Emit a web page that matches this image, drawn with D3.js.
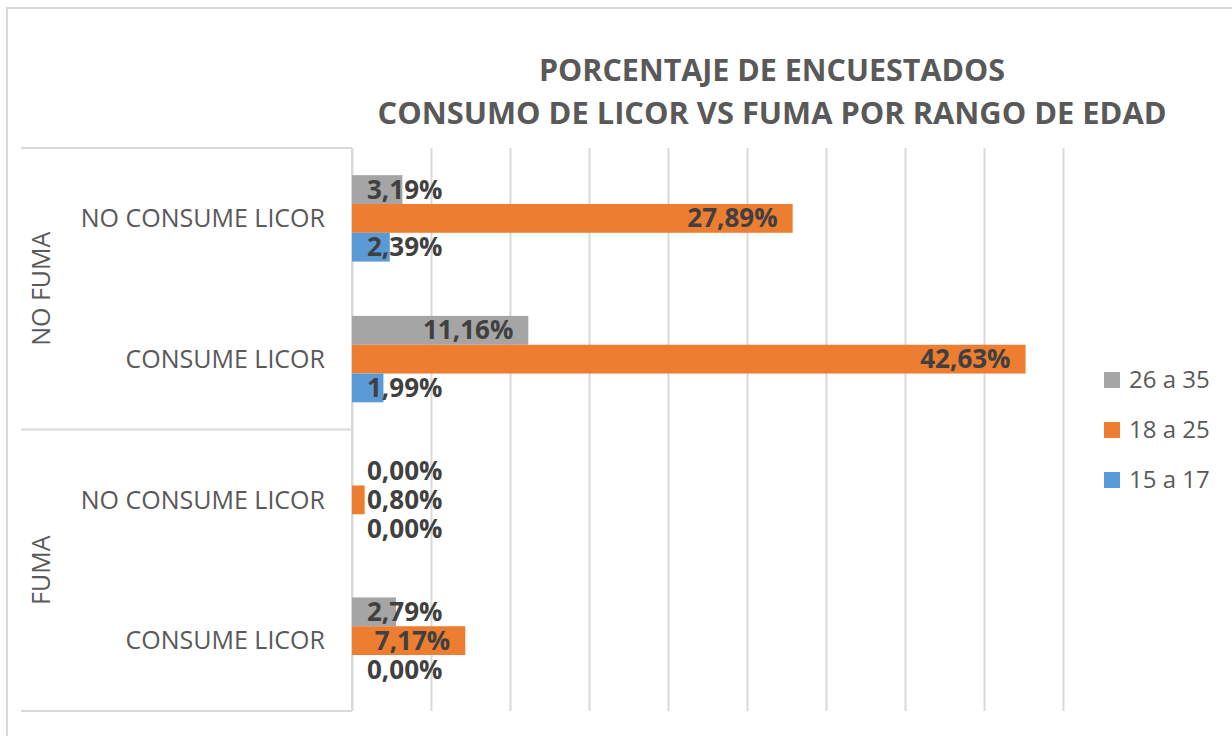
<!DOCTYPE html>
<html lang="es">
<head>
  <meta charset="UTF-8">
  <title>Porcentaje de encuestados</title>
  <script src="https://d3js.org/d3.v7.min.js"></script>
  <style>
    body { margin: 0; background: white; }
    svg { display: block; font-family: "Open Sans", sans-serif; }
    .grid line { stroke: #d9d9d9; stroke-width: 2px; }
    .frame { fill: none; stroke: #d9d9d9; stroke-width: 2px; }
    .sep { stroke: #d9d9d9; stroke-width: 2px; }
    .title { font-weight: bold; fill: #595959; font-size: 30px; }
    .cat { fill: #595959; font-size: 25px; }
    .val { fill: #404040; font-weight: bold; font-size: 26px; }
    .leg { fill: #595959; font-size: 24px; }
  </style>
</head>
<body>
  <svg width="1232" height="736"></svg>
  <script>
    // Data
    var groupLabels = ["NO FUMA", "FUMA"];
    var catLabels = ["NO CONSUME LICOR", "CONSUME LICOR", "NO CONSUME LICOR", "CONSUME LICOR"];
    var series = ["26 a 35", "18 a 25", "15 a 17"];
    var colors = ["#a5a5a5", "#ed7d31", "#5b9bd5"];
    var values = [
      [3.19, 11.16, 0.00, 2.79],   // 26 a 35
      [27.89, 42.63, 0.80, 7.17],  // 18 a 25
      [2.39, 1.99, 0.00, 0.00]     // 15 a 17
    ];
    var xTicks = [0, 5, 10, 15, 20, 25, 30, 35, 40, 45];

    var svg = d3.select("svg");
    var plotLeft = 352, plotRight = 1063, plotTop = 148, plotBottom = 711;

    svg.append("rect").attr("class", "frame")
      .attr("x", 7).attr("y", 8).attr("width", 1240).attr("height", 740);

    // title
    svg.append("text").attr("class", "title")
      .attr("x", 772).attr("y", 81).attr("text-anchor", "middle")
      .attr("textLength", 466).attr("lengthAdjust", "spacingAndGlyphs")
      .text("PORCENTAJE DE ENCUESTADOS");
    svg.append("text").attr("class", "title")
      .attr("x", 772).attr("y", 124).attr("text-anchor", "middle")
      .attr("textLength", 789).attr("lengthAdjust", "spacingAndGlyphs")
      .text("CONSUMO DE LICOR VS FUMA POR RANGO DE EDAD");

    var x = d3.scaleLinear().domain([0, 45]).range([plotLeft, plotRight]);
    var y = d3.scaleBand().domain(d3.range(catLabels.length))
      .range([plotTop, plotBottom]).paddingInner(0.386).paddingOuter(0.193);
    var ySub = d3.scaleBand().domain(series).range([0, y.bandwidth()]);

    // gridlines
    svg.append("g").attr("class", "grid")
      .attr("transform", "translate(0," + plotBottom + ")")
      .call(d3.axisBottom(x).tickValues(xTicks).tickSize(-(plotBottom - plotTop)).tickFormat(""))
      .call(g => g.select(".domain").remove());

    // category axis boxes
    svg.append("line").attr("class", "sep")
      .attr("x1", plotLeft).attr("x2", plotLeft).attr("y1", plotTop).attr("y2", plotBottom);
    var groupBreaks = [plotTop, (y(1) + y.bandwidth() + y(2)) / 2, plotBottom];
    groupBreaks.forEach(function (yy) {
      svg.append("line").attr("class", "sep")
        .attr("x1", 21).attr("x2", plotLeft).attr("y1", yy).attr("y2", yy);
    });

    svg.selectAll(".cat-label")
      .data(catLabels)
      .enter().append("text")
      .attr("class", "cat")
      .attr("x", 325)
      .attr("y", (d, i) => y(i) + y.bandwidth() / 2)
      .attr("dy", "0.35em")
      .attr("text-anchor", "end")
      .text(d => d);

    groupLabels.forEach(function (g, gi) {
      var cy = (groupBreaks[gi] + groupBreaks[gi + 1]) / 2;
      svg.append("text").attr("class", "cat")
        .attr("transform", "translate(41," + cy + ") rotate(-90)")
        .attr("text-anchor", "middle")
        .attr("dy", "0.35em")
        .text(g);
    });

    // bars
    var fmt = v => d3.format(".2f")(v).replace(".", ",") + "%";
    var bars = [];
    series.forEach(function (s, si) {
      values[si].forEach(function (v, ci) {
        bars.push({ s: s, si: si, ci: ci, v: v });
      });
    });

    svg.append("g").selectAll("rect")
      .data(bars)
      .enter().append("rect")
      .attr("x", plotLeft)
      .attr("y", d => y(d.ci) + ySub(d.s))
      .attr("width", d => x(d.v) - plotLeft)
      .attr("height", ySub.bandwidth())
      .attr("fill", d => colors[d.si]);

    svg.append("g").selectAll("text")
      .data(bars)
      .enter().append("text")
      .attr("class", "val")
      .attr("y", d => y(d.ci) + ySub(d.s) + ySub.bandwidth() / 2)
      .attr("dy", "0.35em")
      .attr("text-anchor", "end")
      .text(d => fmt(d.v))
      .attr("x", function (d) {
        var w = this.getComputedTextLength();
        return Math.max(x(d.v) - 15, plotLeft + 15 + w);
      });

    // legend
    var leg = svg.append("g").selectAll("g")
      .data(series)
      .enter().append("g")
      .attr("transform", (d, i) => "translate(1104," + (380 + i * 50) + ")");
    leg.append("rect").attr("x", 0).attr("y", -8).attr("width", 16).attr("height", 16)
      .attr("fill", (d, i) => colors[i]);
    leg.append("text").attr("class", "leg")
      .attr("x", 25).attr("dy", "0.35em").text(d => d);
  </script>
</body>
</html>
